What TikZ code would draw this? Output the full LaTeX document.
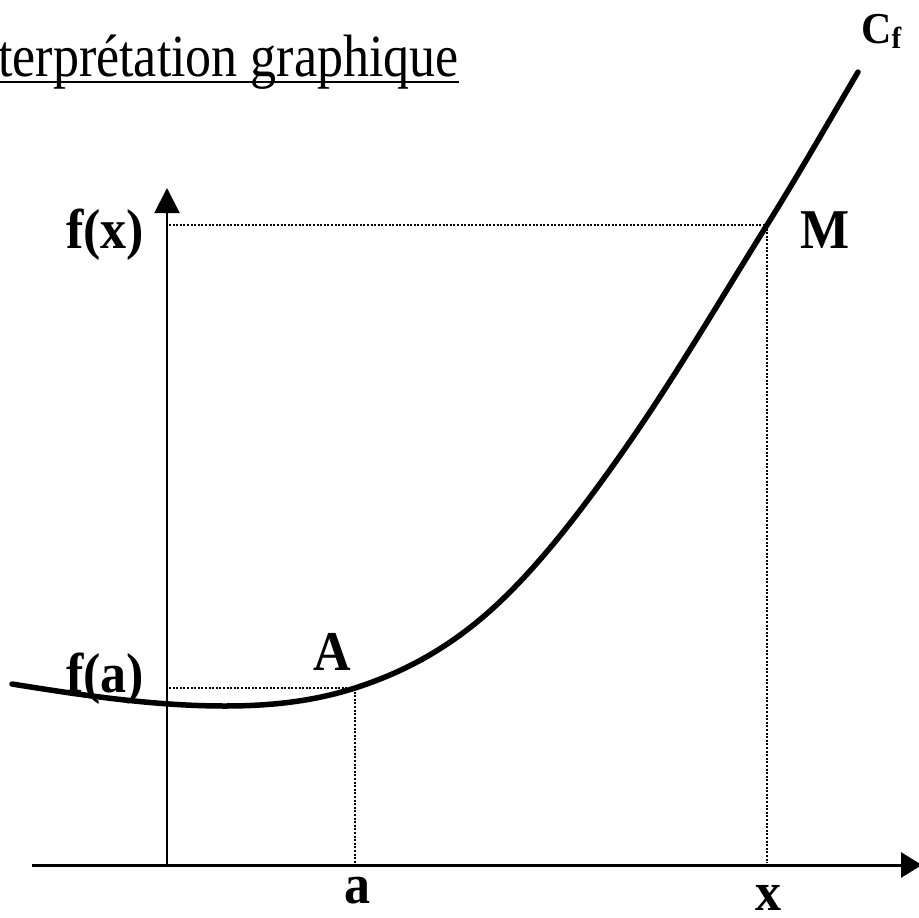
\documentclass[tikz,border=0pt]{standalone}
\usepackage{graphicx}
\usepackage{fontspec}
\setmainfont{Liberation Serif}
\usetikzlibrary{arrows.meta}
\newcommand{\vstretch}[2]{\scalebox{1}[#1]{#2}}
\begin{document}
\begin{tikzpicture}[x=1pt,y=-1pt,
  lbl/.style={inner sep=0pt, font=\bfseries\fontsize{52}{60}\selectfont},
  axisline/.style={line width=2pt},
  guide/.style={line width=2.2pt, dash pattern=on 2pt off 1.6pt},
  curveline/.style={line width=5.5pt, line cap=round}]
\useasboundingbox[fill=white] (0,0) rectangle (919,918);

% key points
\coordinate (O) at (167,865);
\coordinate (ytop) at (167,188);
\coordinate (xl) at (32,865);
\coordinate (xr) at (922,865);
\coordinate (A) at (355,688);
\coordinate (M) at (767,225);
\coordinate (Ay) at (169,688);
\coordinate (Ax) at (355,863);
\coordinate (My) at (169,225);
\coordinate (Mx) at (767,863);
\coordinate (Cs) at (12,684);
\coordinate (Ce) at (858,72);

% title
\node[inner sep=0pt, anchor=base west, font=\fontsize{52}{60}\selectfont] (title) at (-2,76) {\vstretch{1.15}{terprétation graphique}};
\draw[line width=2pt] ([yshift=-6pt]title.base west) -- ([yshift=-6pt]title.base east);

% guides
\draw[guide] (My) -- (M);
\draw[guide] (M) -- (Mx);
\draw[guide] (Ay) -- (A);
\draw[guide] (A) -- (Ax);

% axes
\draw[axisline, -{Triangle[length=25pt,width=25pt]}] (O) -- (ytop);
\draw[axisline, line width=3pt, -{Triangle[length=21pt,width=25pt]}] (xl) -- (xr);

% curve
\draw[curveline] (Cs)
  .. controls (83,695.4) and (154,706) .. (225,706)
  .. controls (268.3,706) and (311.7,701.9) .. (A)
  .. controls (397.7,674.3) and (440.3,653.3) .. (483,617)
  .. controls (533,574.5) and (583,509.5) .. (633,437)
  .. controls (677.7,372.2) and (722.3,296.5) .. (M)
  .. controls (797.3,176.5) and (827.7,123.5) .. (Ce);

% labels
\node[lbl, anchor=base west] (fx) at (66,248) {\vstretch{1.08}{f(x)}};
\node[lbl, anchor=base west] (fa) at (66,692) {\vstretch{1.08}{f(a)}};
\node[lbl, anchor=base west] (lA) at (313,670) {\vstretch{1.08}{A}};
\node[lbl, anchor=base west] (lM) at (800,248) {\vstretch{1.08}{M}};
\node[lbl, anchor=base] (la) at (357,903) {\vstretch{1.08}{a}};
\node[lbl, anchor=base] (lx) at (768,910) {\vstretch{1.05}{x}};
\node[inner sep=0pt, anchor=base west, font=\bfseries\fontsize{42}{50}\selectfont] (Cf) at (861,43) {\vstretch{1.05}{C\raisebox{-5pt}{\fontsize{29}{32}\selectfont f}}};
\end{tikzpicture}
\end{document}
